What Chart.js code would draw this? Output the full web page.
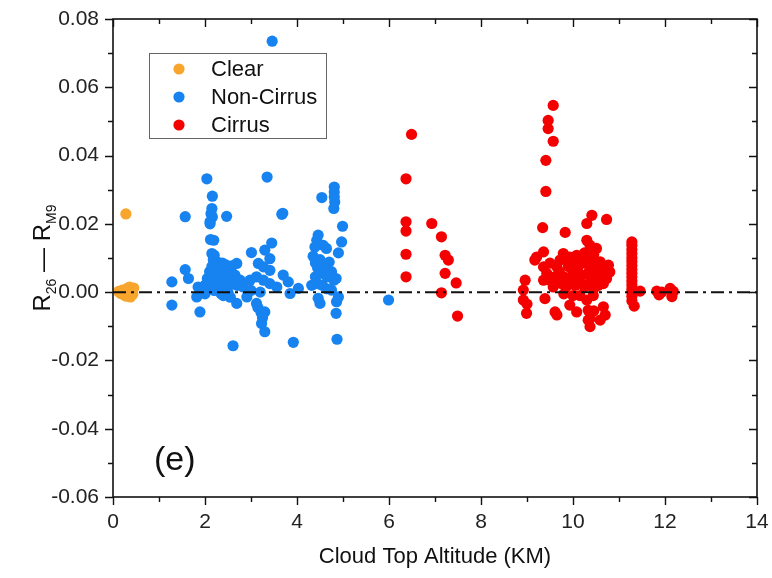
<!DOCTYPE html>
<html>
<head>
<meta charset="utf-8">
<script src="https://cdn.jsdelivr.net/npm/chart.js@4.4.1/dist/chart.umd.min.js"></script>
<style>
  html, body { margin: 0; padding: 0; background: #fff; }
</style>
</head>
<body>
<canvas id="scatterChart" width="772" height="578"></canvas>
<script>
// Data: [cloud top altitude (km), R26 - RM9]
const clearPoints = [
  [0.28, 0.0229], [0.12, 0.0002], [0.17, -0.0004], [0.20, 0.0006], [0.23, -0.0008],
  [0.26, 0.0003], [0.29, -0.0012], [0.31, 0.0011], [0.34, -0.0003], [0.36, 0.0015],
  [0.38, -0.0014], [0.41, 0.0007], [0.43, -0.0006], [0.45, 0.0012], [0.33, 0.0004]
];

const nonCirrusPoints = [
  [3.46, 0.0735], [2.04, 0.0332], [3.35, 0.0337],
  [2.16, 0.0281], [2.15, 0.0245], [2.13, 0.0230], [2.16, 0.0220], [2.11, 0.0206], [2.11, 0.0200],
  [2.12, 0.0154], [2.19, 0.0152], [2.15, 0.0113], [2.18, 0.0095], [2.20, 0.0108],
  [1.57, 0.0221], [2.47, 0.0222], [3.67, 0.0228], [3.69, 0.0231],
  [4.81, 0.0308], [4.81, 0.0293], [4.81, 0.0279], [4.82, 0.0264], [4.80, 0.0245], [4.54, 0.0277],
  [4.99, 0.0193], [4.46, 0.0167], [4.43, 0.0152], [4.39, 0.0132], [4.57, 0.0137], [4.64, 0.0128],
  [4.97, 0.0147], [4.90, 0.0115],
  [3.01, 0.0116], [3.45, 0.0144], [3.30, 0.0123], [3.41, 0.0098], [3.16, 0.0084], [3.27, 0.0074],
  [3.41, 0.0064], [3.70, 0.0050], [3.81, 0.0030], [3.85, -0.0004], [4.03, 0.0011],
  [1.57, 0.0066], [1.64, 0.0040], [1.28, 0.0030], [1.28, -0.0038], [1.89, -0.0058], [1.82, -0.0014], [1.85, 0.0015],
  [2.00, 0.0020], [2.05, 0.0040], [2.10, 0.0060], [2.15, 0.0075], [2.20, 0.0050], [2.25, 0.0030],
  [2.30, 0.0070], [2.30, 0.0015], [2.35, 0.0045], [2.40, 0.0060], [2.45, 0.0025], [2.45, 0.0080],
  [2.50, 0.0045], [2.55, 0.0065], [2.60, 0.0025], [2.60, 0.0078], [2.65, 0.0050], [2.69, 0.0084],
  [2.70, 0.0020], [2.75, 0.0035], [2.20, 0.0005], [2.10, 0.0010], [2.35, -0.0005], [2.50, 0.0000],
  [2.55, -0.0015], [2.40, -0.0010], [2.00, -0.0005], [2.25, 0.0090], [2.38, 0.0085], [2.15, 0.0035],
  [2.69, -0.0033], [2.91, -0.0014], [2.76, 0.0035], [2.83, 0.0015], [2.98, 0.0035], [3.12, 0.0045],
  [3.27, 0.0035], [3.41, 0.0025], [3.56, 0.0015], [3.00, 0.0005], [3.20, 0.0000],
  [3.12, -0.0033], [3.15, -0.0045], [3.22, -0.0060], [3.30, -0.0058], [3.25, -0.0075], [3.23, -0.0092],
  [3.30, -0.0116], [2.61, -0.0157], [3.92, -0.0147], [4.87, -0.0138],
  [4.35, 0.0105], [4.40, 0.0085], [4.45, 0.0070], [4.50, 0.0095], [4.55, 0.0055], [4.60, 0.0080],
  [4.65, 0.0045], [4.70, 0.0088], [4.75, 0.0060], [4.80, 0.0035], [4.40, 0.0045], [4.45, 0.0025],
  [4.55, 0.0020], [4.65, 0.0010], [4.75, 0.0006], [4.85, 0.0040], [4.32, 0.0020], [4.50, -0.0033],
  [4.46, -0.0018], [4.90, -0.0014], [4.86, -0.0028], [4.85, -0.0062],
  [5.99, -0.0023]
];

const cirrusPoints = [
  [6.49, 0.0462], [6.37, 0.0332], [6.37, 0.0206], [6.37, 0.0179], [6.37, 0.0111], [6.37, 0.0045],
  [6.93, 0.0201], [7.14, 0.0162], [7.22, 0.0108], [7.29, 0.0094], [7.22, 0.0055], [7.46, 0.0027],
  [7.14, -0.0002], [7.49, -0.0070],
  [9.57, 0.0547], [9.46, 0.0503], [9.46, 0.0479], [9.57, 0.0442], [9.41, 0.0386], [9.41, 0.0295], [9.34, 0.0189],
  [10.41, 0.0225], [10.30, 0.0201], [10.73, 0.0213], [9.83, 0.0175], [10.30, 0.0152], [10.37, 0.0137],
  [10.51, 0.0128], [9.36, 0.0118], [9.21, 0.0103], [9.17, 0.0094], [9.79, 0.0113], [9.72, 0.0094],
  [9.65, 0.0074], [9.93, 0.0103], [10.08, 0.0108], [10.30, 0.0099], [10.44, 0.0084], [10.59, 0.0089],
  [10.77, 0.0079], [10.80, 0.0059], [10.73, 0.0040], [10.66, 0.0025],
  [9.36, 0.0074], [9.43, 0.0055], [9.50, 0.0035], [9.57, 0.0015], [9.36, 0.0035], [9.70, 0.0060],
  [9.80, 0.0045], [9.90, 0.0075], [10.00, 0.0055], [10.10, 0.0070], [10.20, 0.0050], [10.25, 0.0085],
  [10.35, 0.0060], [10.40, 0.0040], [10.50, 0.0065], [10.55, 0.0045], [10.60, 0.0075], [10.70, 0.0055],
  [9.75, 0.0025], [9.85, 0.0015], [9.95, 0.0030], [10.05, 0.0020], [10.15, 0.0035], [10.25, 0.0015],
  [10.35, 0.0025], [10.45, 0.0010], [10.55, 0.0020], [9.60, 0.0045], [9.90, 0.0090], [10.15, 0.0095],
  [10.45, 0.0110], [10.25, 0.0115], [9.50, 0.0085], [9.70, 0.0035], [10.00, 0.0085], [10.60, 0.0035],
  [8.96, 0.0035], [8.92, 0.0006], [8.92, -0.0023], [8.99, -0.0062], [9.00, -0.0035], [9.39, -0.0019],
  [9.61, -0.0058], [9.65, -0.0067], [9.93, -0.0038], [10.08, -0.0058], [10.30, -0.0023], [10.33, -0.0053],
  [10.37, -0.0077], [10.37, -0.0101], [10.66, -0.0043], [10.70, -0.0067], [10.59, -0.0082], [10.15, -0.0010],
  [10.44, -0.0010], [10.33, -0.0082], [10.45, -0.0055], [9.80, -0.0005], [10.00, -0.0010],
  [11.28, 0.0147], [11.28, 0.0137], [11.28, 0.0125], [11.28, 0.0113], [11.28, 0.0101], [11.28, 0.0090],
  [11.28, 0.0078], [11.28, 0.0066], [11.28, 0.0055], [11.28, 0.0044], [11.28, 0.0033], [11.28, 0.0022],
  [11.28, 0.0010], [11.28, 0.0000], [11.28, -0.0012], [11.28, -0.0025], [11.33, -0.0041], [11.46, 0.0003],
  [11.82, 0.0003], [11.93, 0.0000], [12.11, 0.0011], [12.18, 0.0002], [11.87, -0.0008], [12.15, -0.0013]
];

const zeroLine = [[0, 0], [14, 0]];

const seriesNames = ['Clear', 'Non-Cirrus', 'Cirrus'];
const seriesColors = ['#F7A52C', '#1683F0', '#F40000'];

const xRange = [0, 14];
const yRange = [-0.06, 0.08];

const fontFamily = '"Liberation Sans", Arial, sans-serif';

const toXY = function (pairs) {
  return pairs.map(function (p) { return { x: p[0], y: p[1] }; });
};

const pointSet = function (label, pairs, color) {
  return {
    label: label,
    data: toXY(pairs),
    backgroundColor: color,
    borderWidth: 0,
    pointRadius: 5.6,
    order: 1
  };
};

// Axis frame, major/minor ticks on four sides, legend box, labels
const decorations = {
  id: 'decorations',
  afterDatasetsDraw(chart) {
    const ctx = chart.ctx;
    const area = chart.chartArea;
    const xs = chart.scales.x;
    const ys = chart.scales.y;
    ctx.save();
    ctx.strokeStyle = '#111';
    ctx.lineWidth = 1.6;
    ctx.strokeRect(area.left, area.top, area.right - area.left, area.bottom - area.top);

    ctx.lineWidth = 1.4;
    ctx.beginPath();
    for (let v = xRange[0]; v <= xRange[1]; v += 1) {
      const px = Math.round(xs.getPixelForValue(v)) + 0.5;
      const len = v % 2 === 0 ? 8 : 5;
      ctx.moveTo(px, area.bottom); ctx.lineTo(px, area.bottom + len);
      ctx.moveTo(px, area.top); ctx.lineTo(px, area.top + len);
    }
    for (let i = 0; i <= 14; i++) {
      const v = yRange[0] + i * 0.01;
      const py = Math.round(ys.getPixelForValue(v)) + 0.5;
      const len = i % 2 === 0 ? 8 : 5;
      ctx.moveTo(area.left, py); ctx.lineTo(area.left - len, py);
      ctx.moveTo(area.right, py); ctx.lineTo(area.right - len, py);
    }
    ctx.stroke();
    ctx.restore();
  },
  afterDraw(chart) {
    const ctx = chart.ctx;
    const area = chart.chartArea;
    ctx.save();

    // legend
    ctx.strokeStyle = '#666';
    ctx.lineWidth = 1;
    ctx.strokeRect(149.5, 53.5, 177, 85);
    ctx.font = '22px ' + fontFamily;
    ctx.textBaseline = 'middle';
    ctx.textAlign = 'left';
    for (let i = 0; i < 3; i++) {
      const ds = chart.data.datasets[i];
      const cy = 69 + i * 28;
      ctx.fillStyle = ds.backgroundColor;
      ctx.beginPath();
      ctx.arc(179, cy, 5.6, 0, Math.PI * 2);
      ctx.fill();
      ctx.fillStyle = '#111';
      ctx.fillText(ds.label, 211, cy + 1);
    }

    // panel label
    ctx.font = '34px ' + fontFamily;
    ctx.fillText('(e)', 154, 461);

    // x axis title
    ctx.textAlign = 'center';
    ctx.font = '22px ' + fontFamily;
    ctx.fillText('Cloud Top Altitude (KM)', (area.left + area.right) / 2, 557);

    // y axis title with subscripts
    ctx.translate(42, 258);
    ctx.rotate(-Math.PI / 2);
    const big = '24px ' + fontFamily;
    const small = '14px ' + fontFamily;
    const parts = [['R', big, 0], ['26', small, 6], [' \u2014 ', big, 0], ['R', big, 0], ['M9', small, 6]];
    let total = 0;
    parts.forEach(function (p) { ctx.font = p[1]; total += ctx.measureText(p[0]).width; });
    let cx = -total / 2;
    ctx.textAlign = 'left';
    ctx.textBaseline = 'alphabetic';
    parts.forEach(function (p) {
      ctx.font = p[1];
      ctx.fillText(p[0], cx, 8 + p[2]);
      cx += ctx.measureText(p[0]).width;
    });
    ctx.restore();
  }
};

const chartElement = document.getElementById('scatterChart');
const scatterChart = new Chart(chartElement, {
  type: 'scatter',
  data: {
    datasets: [
      pointSet(seriesNames[0], clearPoints, seriesColors[0]),
      pointSet(seriesNames[1], nonCirrusPoints, seriesColors[1]),
      pointSet(seriesNames[2], cirrusPoints, seriesColors[2]),
      {
        type: 'line',
        label: 'zero',
        data: toXY(zeroLine),
        borderColor: '#111',
        borderWidth: 2,
        borderDash: [13, 5, 3, 5],
        pointRadius: 0,
        fill: false,
        order: 0
      }
    ]
  },
  options: {
    responsive: false,
    animation: false,
    events: [],
    layout: { padding: { top: 19, right: 15, left: 0, bottom: 0 } },
    plugins: {
      legend: { display: false },
      tooltip: { enabled: false }
    },
    scales: {
      x: {
        type: 'linear',
        min: xRange[0],
        max: xRange[1],
        grid: { display: false, drawTicks: false },
        border: { display: false },
        ticks: {
          stepSize: 2,
          padding: 13,
          color: '#222',
          font: { family: fontFamily, size: 21 }
        },
        afterFit: function (scale) {
          scale.height = 81;
          scale.paddingLeft = 0;
          scale.paddingRight = 0;
        }
      },
      y: {
        min: yRange[0],
        max: yRange[1],
        grid: { display: false, drawTicks: false },
        border: { display: false },
        ticks: {
          stepSize: 0.02,
          padding: 14,
          color: '#222',
          font: { family: fontFamily, size: 21 },
          callback: function (v) { return Math.abs(v) < 1e-9 ? '0.00' : v.toFixed(2); }
        },
        afterFit: function (scale) {
          scale.width = 113;
          scale.paddingTop = 0;
          scale.paddingBottom = 0;
        }
      }
    }
  },
  plugins: [decorations]
});
</script>
</body>
</html>
